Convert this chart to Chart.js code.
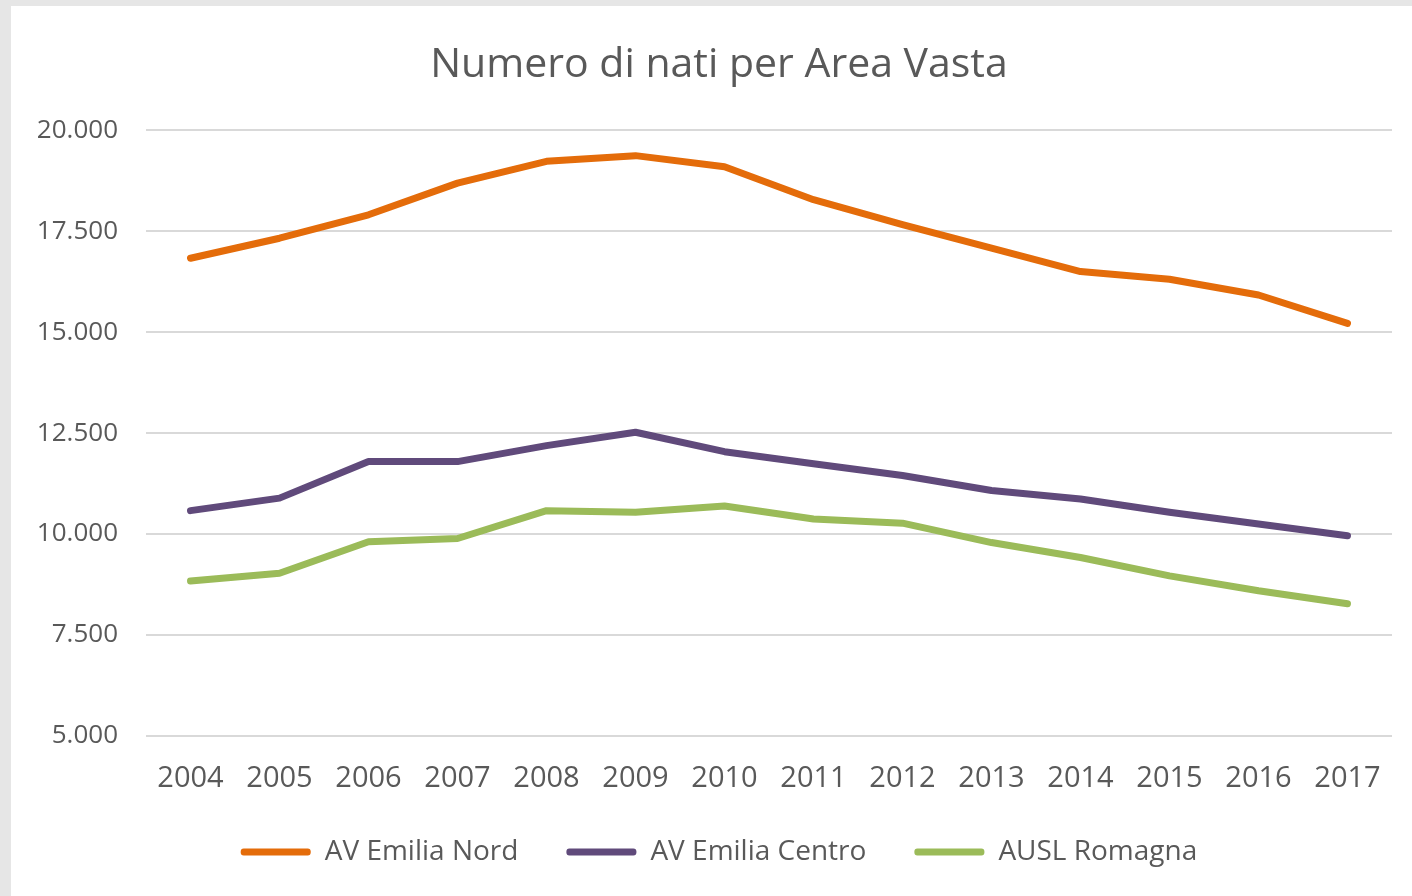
<!DOCTYPE html>
<html lang="it">
<head>
<meta charset="utf-8">
<title>Numero di nati per Area Vasta</title>
<script src="https://cdn.jsdelivr.net/npm/chart.js@4.4.1/dist/chart.umd.min.js"></script>
<style>
  html, body { margin: 0; padding: 0; background: #e6e6e6; overflow: hidden; }
  .card {
    position: absolute; left: 11px; top: 6px;
    width: 1416px; height: 890px; background: #fff;
  }
  canvas { display: block; }
</style>
</head>
<body>
<div class="card">
  <canvas id="birthChart" width="1416" height="890"></canvas>
</div>
<script>
// Numero di nati per anno, per area vasta
const years = ["2004", "2005", "2006", "2007", "2008", "2009", "2010",
               "2011", "2012", "2013", "2014", "2015", "2016", "2017"];
const emiliaNord = [16830, 17325, 17905, 18690, 19230, 19370, 19095,
                    18280, 17660, 17080, 16500, 16310, 15920, 15215];
const emiliaCentro = [10580, 10890, 11795, 11795, 12190, 12520, 12040,
                      11740, 11450, 11080, 10870, 10540, 10250, 9960];
const auslRomagna = [8840, 9030, 9810, 9890, 10580, 10540, 10695,
                     10375, 10270, 9790, 9420, 8965, 8595, 8275];
const yTicks = [5000, 7500, 10000, 12500, 15000, 17500, 20000];

const textColor = "#595959";
const fontFamily = "'Open Sans', 'Noto Sans', sans-serif";

function formatThousands(v) {
    return String(v).replace(/\B(?=(\d{3})+(?!\d))/g, ".");
}

function makeSeries(label, data, color) {
    return {
        label: label,
        data: data,
        borderColor: color,
        backgroundColor: color,
        borderWidth: 7,
        pointRadius: 0,
        borderCapStyle: "round",
        borderJoinStyle: "round",
        tension: 0,
        fill: false,
    };
}

document.addEventListener("DOMContentLoaded", function () {
    const ctx = document.getElementById("birthChart").getContext("2d");
    new Chart(ctx, {
        type: "line",
        data: {
            labels: years,
            datasets: [
                makeSeries("AV Emilia Nord", emiliaNord, "#e46c0a"),
                makeSeries("AV Emilia Centro", emiliaCentro, "#604a7b"),
                makeSeries("AUSL Romagna", auslRomagna, "#9bbb59"),
            ],
        },
        options: {
            responsive: false,
            animation: false,
            layout: { padding: { left: 0, right: 0, top: 0, bottom: 20 } },
            plugins: {
                title: {
                    display: true,
                    text: "Numero di nati per Area Vasta",
                    color: textColor,
                    font: { family: fontFamily, size: 41, weight: "normal" },
                    padding: { top: 35, bottom: 40 },
                },
                legend: {
                    position: "bottom",
                    labels: {
                        color: textColor,
                        font: { family: fontFamily, size: 28 },
                        boxWidth: 70,
                        boxHeight: 7,
                        padding: 48,
                        useBorderRadius: true,
                        borderRadius: 3,
                        generateLabels: function (chart) {
                            const items = Chart.defaults.plugins.legend.labels.generateLabels(chart);
                            items.forEach(it => { it.lineWidth = 0; });
                            return items;
                        },
                    },
                },
                tooltip: { enabled: false },
            },
            scales: {
                x: {
                    offset: true,
                    grid: { display: false },
                    border: { display: false },
                    ticks: {
                        color: textColor,
                        font: { family: fontFamily, size: 29 },
                        padding: 17,
                        maxRotation: 0,
                        autoSkip: false,
                    },
                    afterFit: function (scale) { scale.height = 54; },
                },
                y: {
                    min: yTicks[0],
                    max: yTicks[yTicks.length - 1],
                    afterBuildTicks: function (scale) {
                        scale.ticks = yTicks.map(v => ({ value: v }));
                    },
                    grid: { color: "#d9d9d9", lineWidth: 2, drawTicks: false },
                    border: { display: false },
                    ticks: {
                        color: textColor,
                        font: { family: fontFamily, size: 26 },
                        padding: 28,
                        callback: v => formatThousands(v),
                    },
                    afterFit: function (scale) { scale.width = 135; },
                },
                // empty right margin so the plot ends where the original does
                rightGap: {
                    position: "right",
                    grid: { display: false },
                    border: { display: false },
                    ticks: { display: false },
                    afterFit: function (scale) { scale.width = 35; },
                },
            },
        },
    });
});
</script>
</body>
</html>
